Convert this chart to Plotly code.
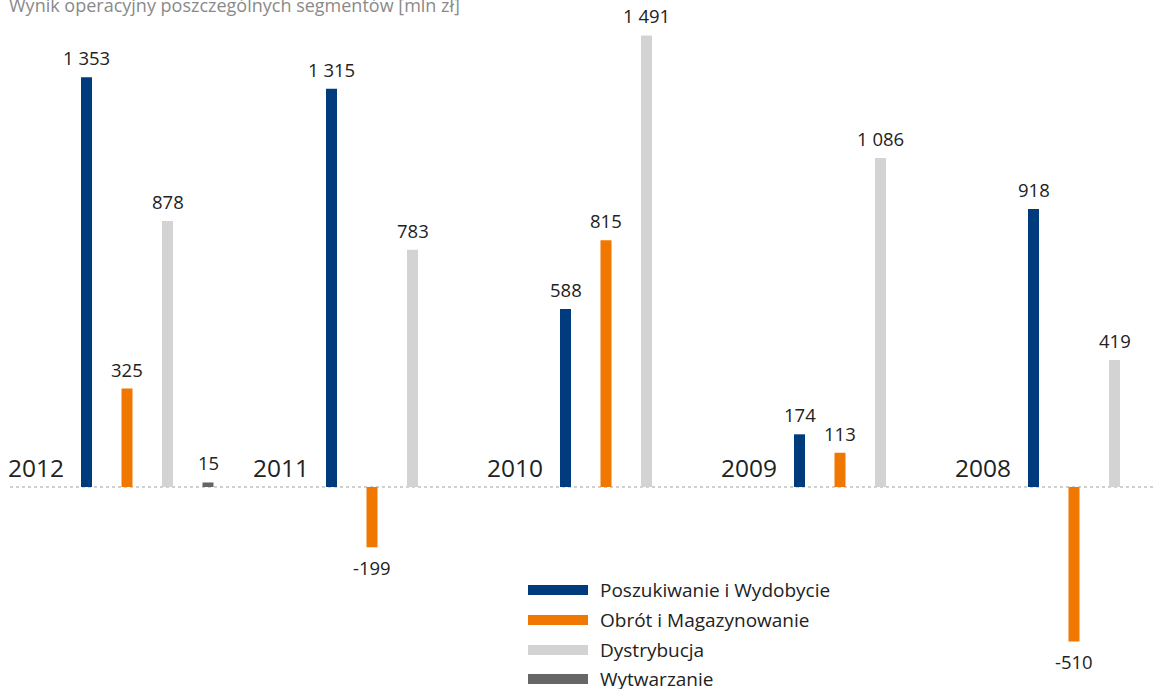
import plotly.graph_objects as go

# ---- data ----
years = ["2012", "2011", "2010", "2009", "2008"]
series_names = ["Poszukiwanie i Wydobycie", "Obrót i Magazynowanie", "Dystrybucja", "Wytwarzanie"]
poszukiwanie = [1353, 1315, 588, 174, 918]
obrot = [325, -199, 815, 113, -510]
dystrybucja = [878, 783, 1491, 1086, 419]
wytwarzanie = [15, None, None, None, None]
title_text = "Wynik operacyjny poszczególnych segmentów [mln zł]"

# ---- style / layout ----
W, H = 1155, 689
colors = ["#003c7d", "#f07800", "#d3d3d3", "#666666"]
group_start = [86.5, 331.5, 565.5, 799.5, 1033.5]   # pixel position of first bar in group
bar_step = 40.5
bar_w = 11
y_range = [-667, 1608]
FONT = "Open Sans"
text_col = "#222222"

def fmt(v):
    s = f"{abs(v):,}".replace(",", " ")
    return ("-" if v < 0 else "") + s

fig = go.Figure()
all_series = [poszukiwanie, obrot, dystrybucja, wytwarzanie]
annotations = []
for k, (name, vals, col) in enumerate(zip(series_names, all_series, colors)):
    xs, ys = [], []
    for g, v in enumerate(vals):
        if v is None:
            continue
        x = group_start[g] + k * bar_step
        xs.append(x)
        ys.append(v)
        annotations.append(dict(
            x=x, y=v, xref="x", yref="y", text=fmt(v), showarrow=False,
            xanchor="center", yanchor="bottom" if v >= 0 else "top",
            yshift=5 if v >= 0 else -6,
            font=dict(family=FONT, size=18.5, color=text_col)))
    fig.add_trace(go.Bar(x=xs, y=ys, width=bar_w, marker=dict(color=col, line=dict(width=0)),
                         name=name, showlegend=False, hoverinfo="skip"))

# year labels
for g, yr in enumerate(years):
    annotations.append(dict(
        x=group_start[g] - bar_w / 2 - 15, y=0, xref="x", yref="y", text=yr,
        showarrow=False, xanchor="right", yanchor="bottom", yshift=1,
        font=dict(family=FONT, size=24.5, color=text_col)))

# title
annotations.append(dict(x=7 / W, y=1, xref="paper", yref="paper", text=title_text,
                        showarrow=False, xanchor="left", yanchor="top", yshift=9,
                        font=dict(family=FONT, size=18, color="#8a8a8a")))

# custom legend
shapes = []
leg_rows = [590, 620, 650, 679]
for name, col, py in zip(series_names, colors, leg_rows):
    shapes.append(dict(type="rect", xref="paper", yref="paper",
                       x0=528 / W, x1=588 / W, y0=1 - (py + 5) / H, y1=1 - (py - 5) / H,
                       fillcolor=col, line=dict(width=0)))
    annotations.append(dict(x=598 / W, y=1 - py / H, xref="paper", yref="paper", text=name,
                            showarrow=False, xanchor="left", yanchor="middle",
                            font=dict(family=FONT, size=19, color=text_col)))

# baseline dotted
shapes.append(dict(type="line", xref="paper", yref="y", x0=10 / W, x1=1, y0=0, y1=0,
                   line=dict(color="#a0a0a0", width=1, dash="dot"), layer="below"))

fig.update_layout(
    width=W, height=H, margin=dict(l=0, r=0, t=0, b=0),
    paper_bgcolor="white", plot_bgcolor="white",
    xaxis=dict(range=[0, W], visible=False, fixedrange=True),
    yaxis=dict(range=y_range, visible=False, fixedrange=True),
    annotations=annotations, shapes=shapes, barmode="overlay",
    font=dict(family=FONT),
)

fig.write_html("out.html", config={"displayModeBar": False},
               post_script="document.body.style.margin='0px';")
